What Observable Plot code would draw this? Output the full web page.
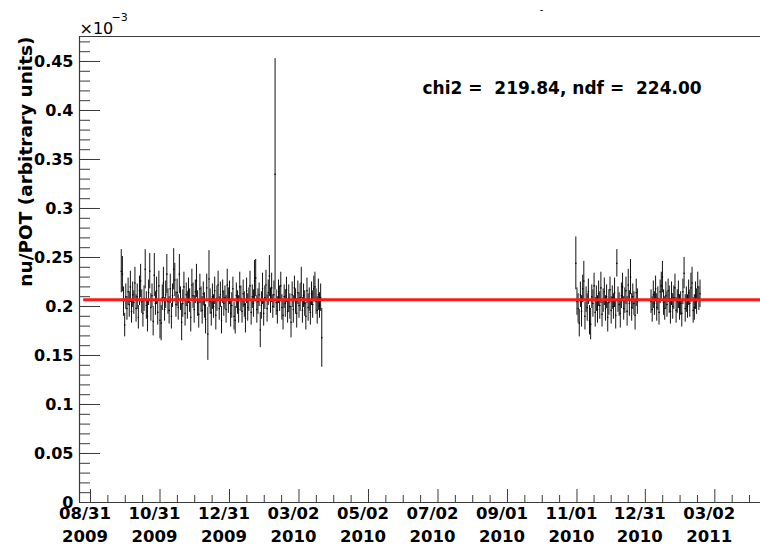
<!DOCTYPE html>
<html><head><meta charset="utf-8">
<script src="https://cdn.jsdelivr.net/npm/d3@7"></script>
<script src="https://cdn.jsdelivr.net/npm/@observablehq/plot@0.6"></script>
<style>body{margin:0;background:#fff;} #chart{width:760px;height:548px;overflow:hidden;}</style>
</head><body><div id="chart"></div>
<script>
// ---- data (nu/POT in units of 1e-3) ----
const seg1Start = "2009-09-27";
const seg1Values = [
0.236,0.233,0.205,0.181,0.210,0.198,0.215,0.202,0.220,0.195,
0.212,0.204,0.224,0.198,0.210,0.189,0.216,0.226,0.205,0.193,
0.208,0.238,0.201,0.190,0.214,0.236,0.199,0.211,0.185,0.232,
0.203,0.216,0.194,0.221,0.186,0.183,0.209,0.224,0.197,0.212,
0.233,0.205,0.196,0.218,0.190,0.211,0.238,0.227,0.202,0.214,
0.199,0.233,0.208,0.184,0.203,0.220,0.193,0.212,0.201,0.216,
0.206,0.189,0.222,0.211,0.197,0.215,0.226,0.203,0.192,0.218,
0.207,0.196,0.213,0.201,0.187,0.219,0.172,0.228,0.205,0.194,
0.210,0.200,0.216,0.191,0.208,0.222,0.198,0.212,0.186,0.215,
0.203,0.209,0.197,0.222,0.206,0.214,0.193,0.201,0.218,0.190,
0.186,0.211,0.204,0.197,0.220,0.208,0.195,0.213,0.202,0.188,
0.216,0.199,0.207,0.221,0.194,0.210,0.203,0.226,0.229,0.197,
0.205,0.212,0.176,0.201,0.218,0.193,0.209,0.222,0.198,0.214,
0.231,0.206,0.219,0.200,0.212,0.335,0.204,0.196,0.215,0.208,
0.221,0.199,0.191,0.210,0.203,0.217,0.195,0.208,0.200,0.184,
0.212,0.197,0.219,0.205,0.193,0.214,0.201,0.209,0.224,0.196,
0.211,0.203,0.190,0.216,0.199,0.207,0.194,0.213,0.202,0.218,
0.220,0.205,0.196,0.212,0.201,0.209,0.168];
const seg1Errors = [
0.022,0.018,0.015,0.012,0.013,0.012,0.014,0.013,0.016,0.012,
0.013,0.012,0.016,0.014,0.013,0.012,0.015,0.017,0.012,0.014,
0.013,0.020,0.014,0.016,0.013,0.018,0.014,0.012,0.015,0.022,
0.012,0.014,0.013,0.015,0.019,0.018,0.013,0.016,0.012,0.014,
0.020,0.013,0.014,0.015,0.013,0.012,0.021,0.017,0.013,0.014,
0.013,0.020,0.012,0.019,0.014,0.015,0.013,0.012,0.014,0.013,
0.012,0.015,0.016,0.013,0.014,0.012,0.017,0.013,0.014,0.015,
0.013,0.014,0.012,0.013,0.015,0.014,0.027,0.029,0.013,0.014,
0.013,0.012,0.014,0.015,0.013,0.014,0.012,0.013,0.014,0.012,
0.013,0.012,0.014,0.016,0.013,0.012,0.014,0.013,0.012,0.014,
0.014,0.013,0.012,0.014,0.015,0.013,0.012,0.014,0.013,0.015,
0.013,0.014,0.012,0.015,0.013,0.012,0.014,0.021,0.019,0.014,
0.013,0.012,0.018,0.014,0.016,0.013,0.012,0.015,0.014,0.013,
0.021,0.013,0.015,0.012,0.014,0.118,0.013,0.014,0.012,0.013,
0.014,0.013,0.015,0.012,0.014,0.013,0.012,0.014,0.013,0.016,
0.013,0.014,0.012,0.013,0.015,0.012,0.013,0.014,0.016,0.013,
0.012,0.013,0.014,0.013,0.014,0.012,0.013,0.012,0.014,0.013,
0.015,0.013,0.014,0.016,0.013,0.014,0.030];

const seg2Start = "2010-10-31";
const seg2Values = [
0.244,0.205,0.198,0.183,0.212,0.195,0.218,0.226,0.190,0.207,
0.199,0.215,0.186,0.182,0.210,0.203,0.221,0.194,0.208,0.197,
0.213,0.201,0.219,0.192,0.206,0.215,0.198,0.210,0.189,0.204,
0.217,0.196,0.209,0.200,0.214,0.191,0.244,0.207,0.202,0.193,
0.211,0.220,0.198,0.206,0.216,0.195,0.222,0.203,0.230,0.199,
0.210,0.203,0.191,0.214,0.205];
const seg2Errors = [
0.027,0.014,0.015,0.014,0.013,0.016,0.014,0.020,0.014,0.013,
0.014,0.013,0.015,0.016,0.012,0.014,0.013,0.015,0.013,0.014,
0.013,0.014,0.016,0.013,0.012,0.014,0.013,0.012,0.015,0.013,
0.013,0.014,0.012,0.013,0.015,0.014,0.014,0.013,0.012,0.015,
0.013,0.014,0.012,0.013,0.014,0.015,0.016,0.013,0.018,0.014,
0.013,0.012,0.015,0.014,0.013];

const seg3Start = "2011-01-05";
const seg3Values = [
0.205,0.197,0.212,0.203,0.218,0.199,0.208,0.194,0.215,0.221,
0.230,0.204,0.198,0.211,0.202,0.216,0.207,0.195,0.213,0.200,
0.209,0.219,0.196,0.205,0.212,0.199,0.203,0.193,0.215,0.234,
0.198,0.207,0.200,0.214,0.203,0.219,0.224,0.196,0.199,0.211,
0.205,0.220,0.208,0.213];
const seg3Errors = [
0.012,0.013,0.014,0.012,0.013,0.014,0.012,0.013,0.012,0.014,
0.016,0.013,0.012,0.014,0.013,0.012,0.014,0.013,0.012,0.013,
0.012,0.014,0.013,0.012,0.014,0.013,0.012,0.014,0.013,0.016,
0.014,0.013,0.012,0.013,0.014,0.015,0.016,0.013,0.013,0.014,
0.013,0.015,0.012,0.014];

const fitValue = 0.207;
const fitStart = "2009-08-25";
const chiText = "chi2 =  219.84, ndf =  224.00";

const xTickLabels = ["08/31\n2009","10/31\n2009","12/31\n2009","03/02\n2010","05/02\n2010",
  "07/02\n2010","09/01\n2010","11/01\n2010","12/31\n2010","03/02\n2011"];
const yTickLabels = ["0","0.05","0.1","0.15","0.2","0.25","0.3","0.35","0.4","0.45"];
const yTitle = "nu/POT (arbitrary units)";

// ---- build ----
const xMin = new Date("2009-08-21T08:10:00Z");
const xMax = new Date("2011-04-11T02:00:00Z");
const yMax = 0.4755;

function expand(start, vals, errs) {
  const s = new Date(start + "T00:00:00Z");
  return vals.map((v, i) => ({date: d3.utcDay.offset(s, i), v, e: errs[i]}));
}
const points = [
  ...expand(seg1Start, seg1Values, seg1Errors),
  ...expand(seg2Start, seg2Values, seg2Errors),
  ...expand(seg3Start, seg3Values, seg3Errors)
];

const xTicks = xTickLabels.map(l => {
  const [md, yr] = l.split("\n");
  const [m, d] = md.split("/");
  return {date: new Date(`${yr}-${m}-${d}T00:00:00Z`), label: l};
});
const xMinor = [];
for (let i = 0; i < xTicks.length; i++) {
  const a = +xTicks[i].date;
  const b = i + 1 < xTicks.length ? +xTicks[i + 1].date : a + (a - +xTicks[0].date) / (xTicks.length - 1);
  for (let k = 1; k < 4; k++) {
    const t = a + (b - a) * k / 4;
    if (t < +xMax) xMinor.push(new Date(t));
  }
}
const yMinor = d3.range(0, yMax, 0.01);
const yTicks = yTickLabels.map(l => ({v: +l, label: l}));

const axisColor = "#3a3a3a";
const font = "DejaVu Sans";

const chart = Plot.plot({
  width: 760, height: 548,
  marginLeft: 79, marginRight: 0, marginTop: 36, marginBottom: 46,
  x: {type: "utc", domain: [xMin, xMax], axis: null},
  y: {domain: [0, yMax], axis: null},
  style: {fontFamily: font, background: "#fff", overflow: "visible"},
  marks: [
    // frame (top, left, bottom)
    Plot.ruleY([yMax], {stroke: axisColor, strokeWidth: 1.2}),
    Plot.ruleY([0], {stroke: axisColor, strokeWidth: 1.2}),
    Plot.ruleX([xMin], {stroke: axisColor, strokeWidth: 1.2}),
    // x ticks
    Plot.ruleX(xTicks, {x: "date", insetTop: 453, stroke: axisColor}),
    Plot.ruleX(xMinor, {insetTop: 459, stroke: axisColor}),
    // y ticks
    Plot.ruleY(yTicks, {y: "v", insetRight: 660, stroke: axisColor}),
    Plot.ruleY(yMinor, {insetRight: 670, stroke: axisColor}),
    // tick labels
    Plot.text(yTicks, {y: "v", text: "label", frameAnchor: "left", textAnchor: "end", dx: -6,
      fontSize: 16, fontWeight: "bold", fill: "#000"}),
    Plot.text(xTicks, {x: "date", text: "label", frameAnchor: "bottom", lineAnchor: "top", dy: 0, dx: -5.5,
      fontSize: 16.5, fontWeight: "bold", lineHeight: 1.4, fill: "#000"}),
    // y title
    Plot.text([yTitle], {frameAnchor: "top-left", text: d => d, rotate: -90, textAnchor: "end", lineAnchor: "bottom",
      dx: -48, dy: 0, fontSize: 18.5, fontWeight: "bold", fill: "#000"}),
    // exponent
    Plot.text(["\u00d710"], {frameAnchor: "top-left", text: d => d, textAnchor: "start", lineAnchor: "bottom",
      dx: 0, dy: -3, fontSize: 16, fill: "#000"}),
    Plot.text(["\u22123"], {frameAnchor: "top-left", text: d => d, textAnchor: "start", lineAnchor: "bottom",
      dx: 32, dy: -16, fontSize: 11, fill: "#000"}),
    Plot.text(["-"], {frameAnchor: "top-left", text: d => d, textAnchor: "middle", lineAnchor: "bottom",
      dx: 462, dy: -24, fontSize: 10, fill: "#000"}),
    // data error bars
    Plot.ruleX(points, {x: "date", y1: d => d.v - d.e, y2: d => d.v + d.e, stroke: "#111", strokeWidth: 1}),
    Plot.dot(points, {x: "date", y: "v", r: 0.8, fill: "#000", stroke: "none"}),
    // fit line
    Plot.ruleY([fitValue], {x1: new Date(fitStart + "T00:00:00Z"), x2: xMax, stroke: "#ff1a1a", strokeWidth: 3}),
    // chi2 label
    Plot.text([chiText], {frameAnchor: "top-left", text: d => d, textAnchor: "start", lineAnchor: "bottom",
      dx: 343, dy: 57, fontSize: 17, fontWeight: "bold", fill: "#000"})
  ]
});
document.getElementById("chart").appendChild(chart);
</script>
</body></html>
